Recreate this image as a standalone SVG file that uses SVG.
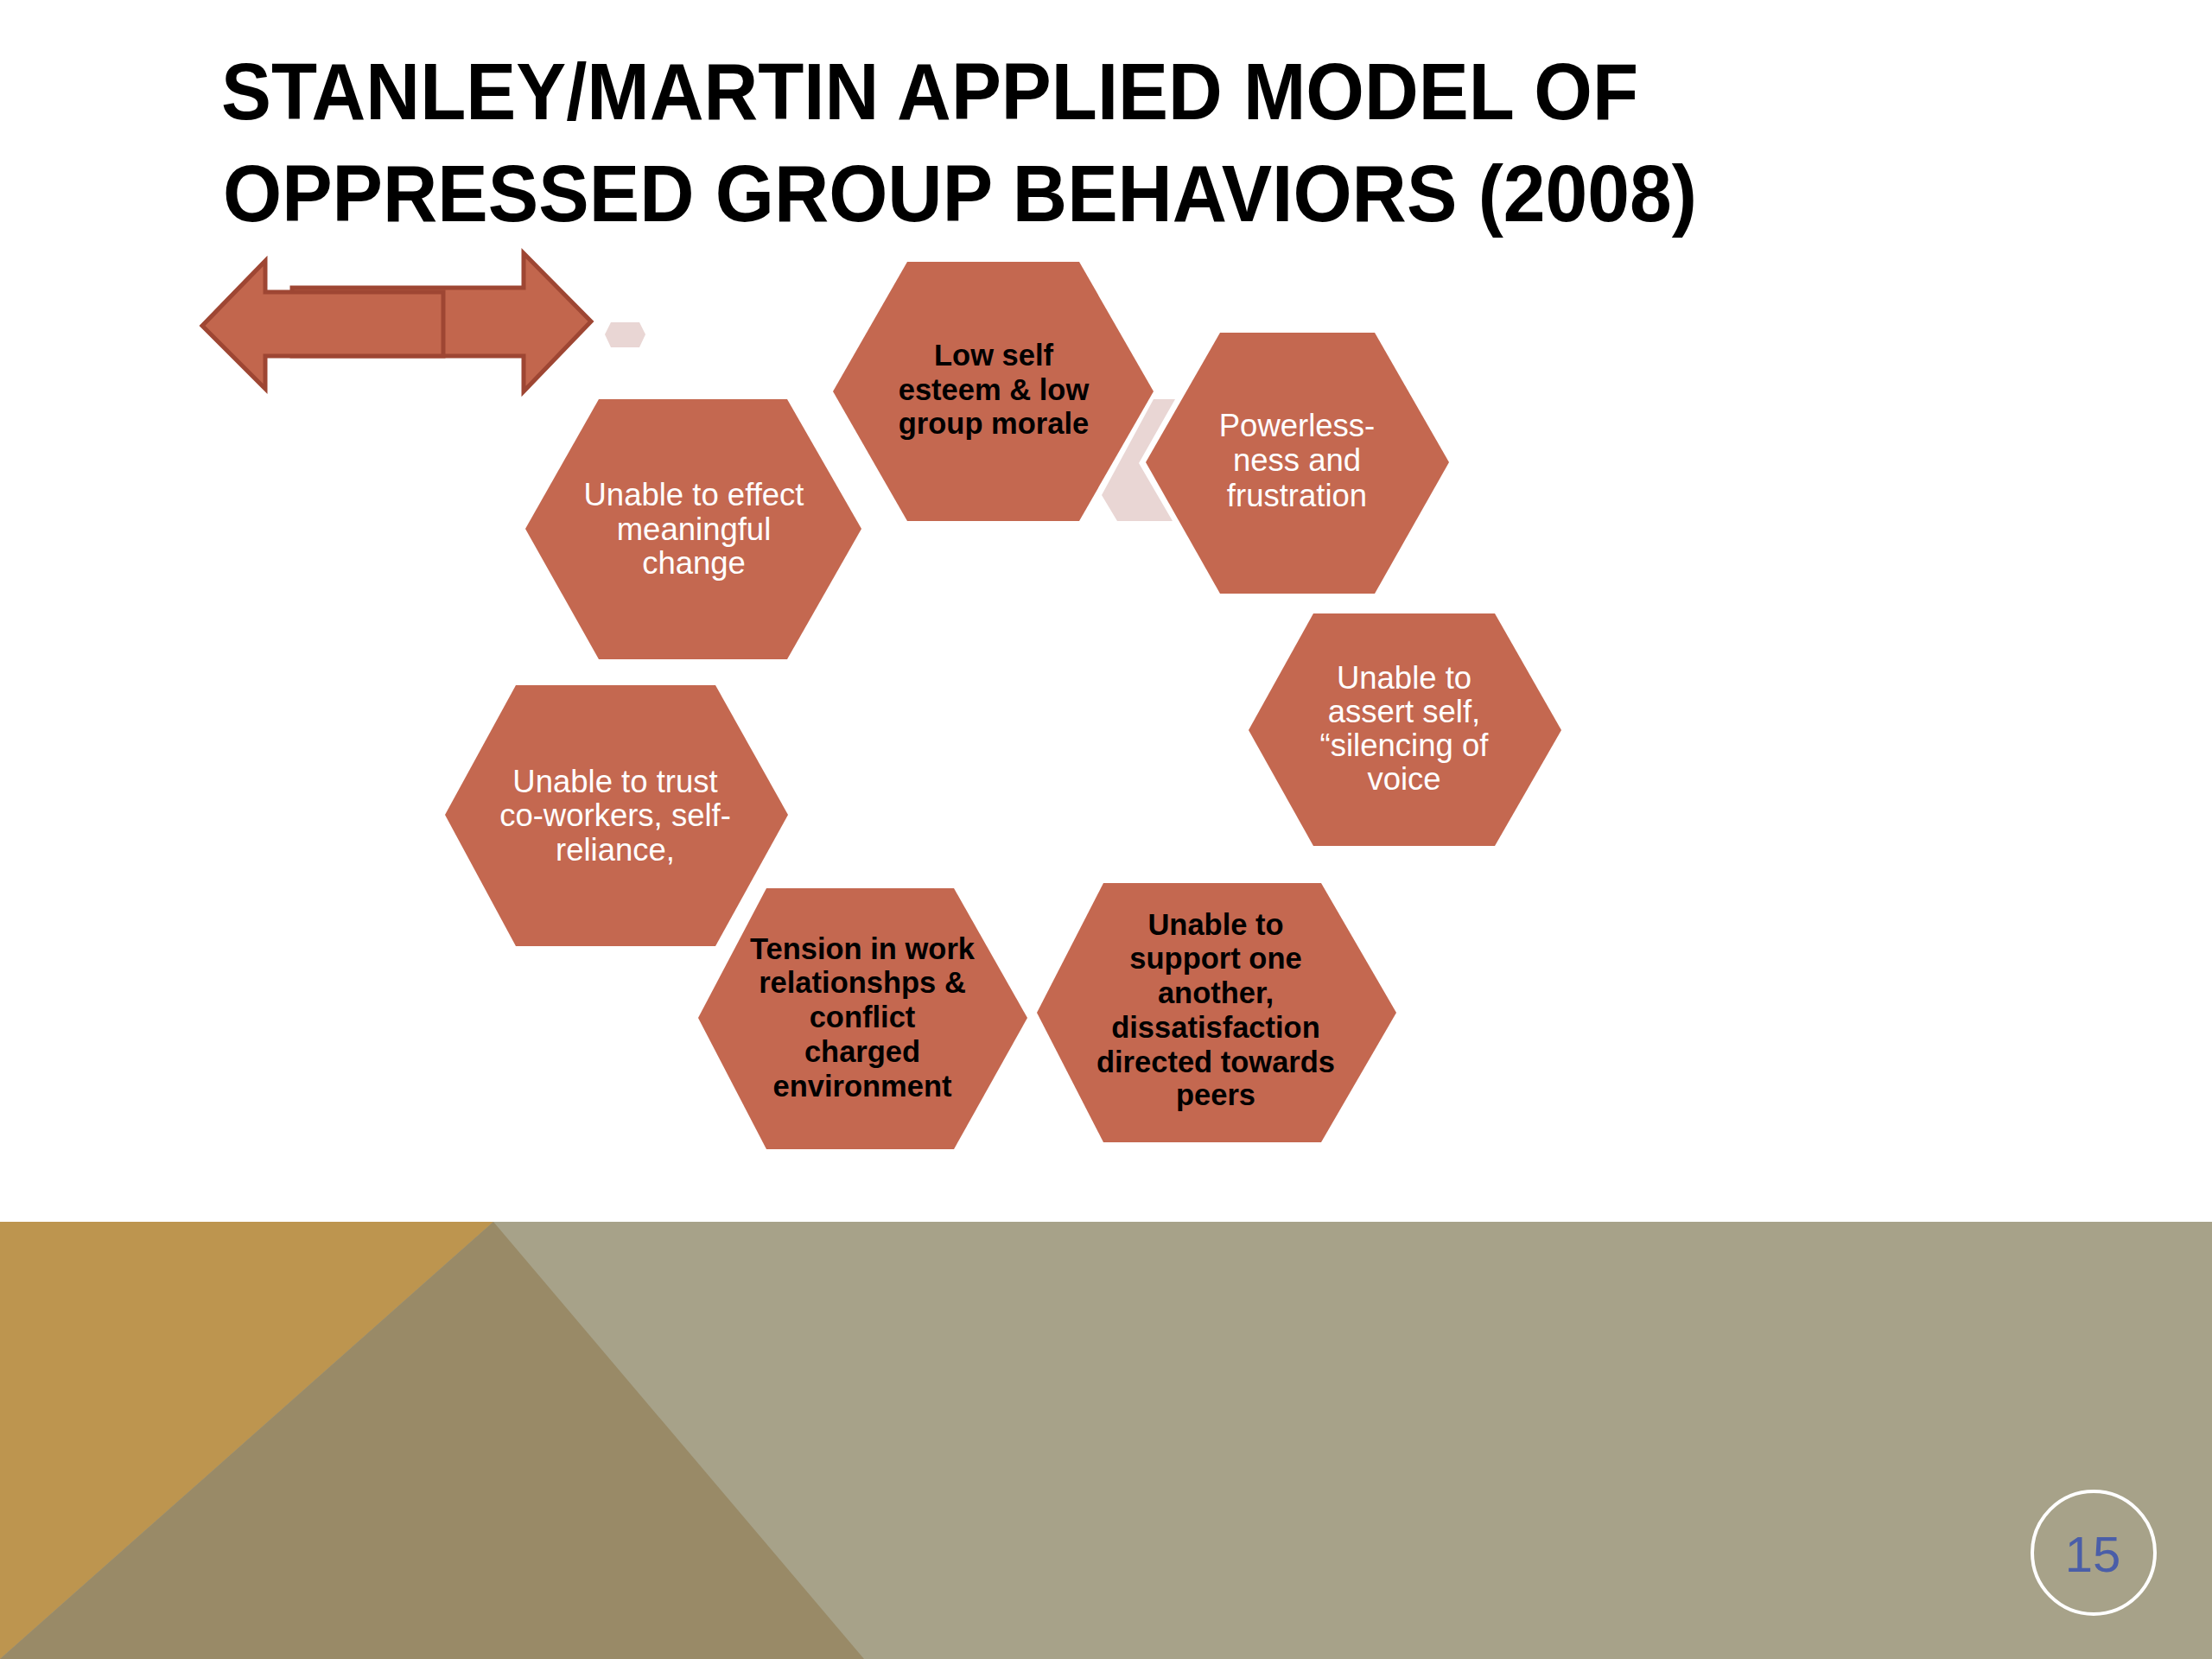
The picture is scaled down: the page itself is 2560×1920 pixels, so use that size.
<svg xmlns="http://www.w3.org/2000/svg" width="2560" height="1920" viewBox="0 0 2560 1920">
<style>
.hex{fill:#C46850;}
.pale{fill:#E9D6D4;}
.tw{font-family:"Liberation Sans",Arial,sans-serif;font-size:36.5px;fill:#FFFFFF;text-anchor:middle;}
.tb{font-family:"Liberation Sans",Arial,sans-serif;font-size:34.5px;font-weight:bold;fill:#000000;text-anchor:middle;}
.title{font-family:"Liberation Sans",Arial,sans-serif;font-size:92px;font-weight:bold;fill:#000000;}
.arr{fill:#C2664D;stroke:#9E4633;stroke-width:5;stroke-linejoin:miter;}
</style>
<rect x="0" y="0" width="2560" height="1920" fill="#FFFFFF"/>
<g id="background">
<rect x="0" y="1414" width="2560" height="506" fill="#A7A289"/>
<polygon points="0,1414 571,1414 0,1920" fill="#BD954F"/>
<polygon points="571,1414 1000,1920 0,1920" fill="#998A67"/>
</g>
<g id="title">
<text class="title" x="256" y="138" textLength="1640" lengthAdjust="spacingAndGlyphs">STANLEY/MARTIN APPLIED MODEL OF</text>
<text class="title" x="258" y="256" textLength="1706" lengthAdjust="spacingAndGlyphs">OPPRESSED GROUP BEHAVIORS (2008)</text>
</g>
<g id="arrow">
<polygon class="arr" points="338,333 606,333 606,293 684,372 606,453 606,412 338,412"/>
<polygon class="arr" points="513,338 307,338 307,302 234,377 307,450 307,412 513,412"/>
</g>
<g id="decor">
<polygon class="pale" points="707,373 740,373 747,387 740,402 707,402 700,387"/>
<polygon class="pale" points="1335,462 1360,462 1318,536 1357,603 1293,603 1275,573"/>
</g>
<g id="node-low-self-esteem">
<polygon class="hex" points="1050,303 1249,303 1335,453 1249,603 1050,603 964,453"/>
<text class="tb" x="1150" y="423">Low self</text>
<text class="tb" x="1150" y="463">esteem &amp; low</text>
<text class="tb" x="1150" y="502">group morale</text>
</g>
<g id="node-powerlessness">
<polygon class="hex" points="1412,385 1591,385 1677,535 1591,687 1412,687 1326,535"/>
<text class="tw" x="1501" y="505">Powerless-</text>
<text class="tw" x="1501" y="545">ness and</text>
<text class="tw" x="1501" y="586">frustration</text>
</g>
<g id="node-unable-assert">
<polygon class="hex" points="1520,710 1730,710 1807,845 1730,979 1520,979 1445,845"/>
<text class="tw" x="1625" y="797">Unable to</text>
<text class="tw" x="1625" y="836">assert self,</text>
<text class="tw" x="1625" y="875">“silencing of</text>
<text class="tw" x="1625" y="914">voice</text>
</g>
<g id="node-unable-support">
<polygon class="hex" points="1277,1022 1529,1022 1616,1172 1529,1322 1277,1322 1200,1172"/>
<text class="tb" x="1407" y="1082">Unable to</text>
<text class="tb" x="1407" y="1121">support one</text>
<text class="tb" x="1407" y="1161">another,</text>
<text class="tb" x="1407" y="1201">dissatisfaction</text>
<text class="tb" x="1407" y="1241">directed towards</text>
<text class="tb" x="1407" y="1279">peers</text>
</g>
<g id="node-tension">
<polygon class="hex" points="887,1028 1104,1028 1189,1178 1104,1330 887,1330 808,1178"/>
<text class="tb" x="998" y="1110">Tension in work</text>
<text class="tb" x="998" y="1149">relationshps &amp;</text>
<text class="tb" x="998" y="1189">conflict</text>
<text class="tb" x="998" y="1229">charged</text>
<text class="tb" x="998" y="1269">environment</text>
</g>
<g id="node-unable-trust">
<polygon class="hex" points="597,793 828,793 912,943 828,1095 597,1095 515,943"/>
<text class="tw" x="712" y="917">Unable to trust</text>
<text class="tw" x="712" y="956">co-workers, self-</text>
<text class="tw" x="712" y="996">reliance,</text>
</g>
<g id="node-unable-effect">
<polygon class="hex" points="693,462 911,462 997,612 911,763 693,763 608,612"/>
<text class="tw" x="803" y="585">Unable to effect</text>
<text class="tw" x="803" y="625">meaningful</text>
<text class="tw" x="803" y="664">change</text>
</g>
<g id="connectors"></g>
<g id="page-number">
<circle cx="2423" cy="1797" r="71" fill="none" stroke="#FFFFFF" stroke-width="4"/>
<text x="2422" y="1819" font-family="Liberation Sans, Arial, sans-serif" font-size="58" fill="#4A5EA8" text-anchor="middle">15</text>
</g>
</svg>
